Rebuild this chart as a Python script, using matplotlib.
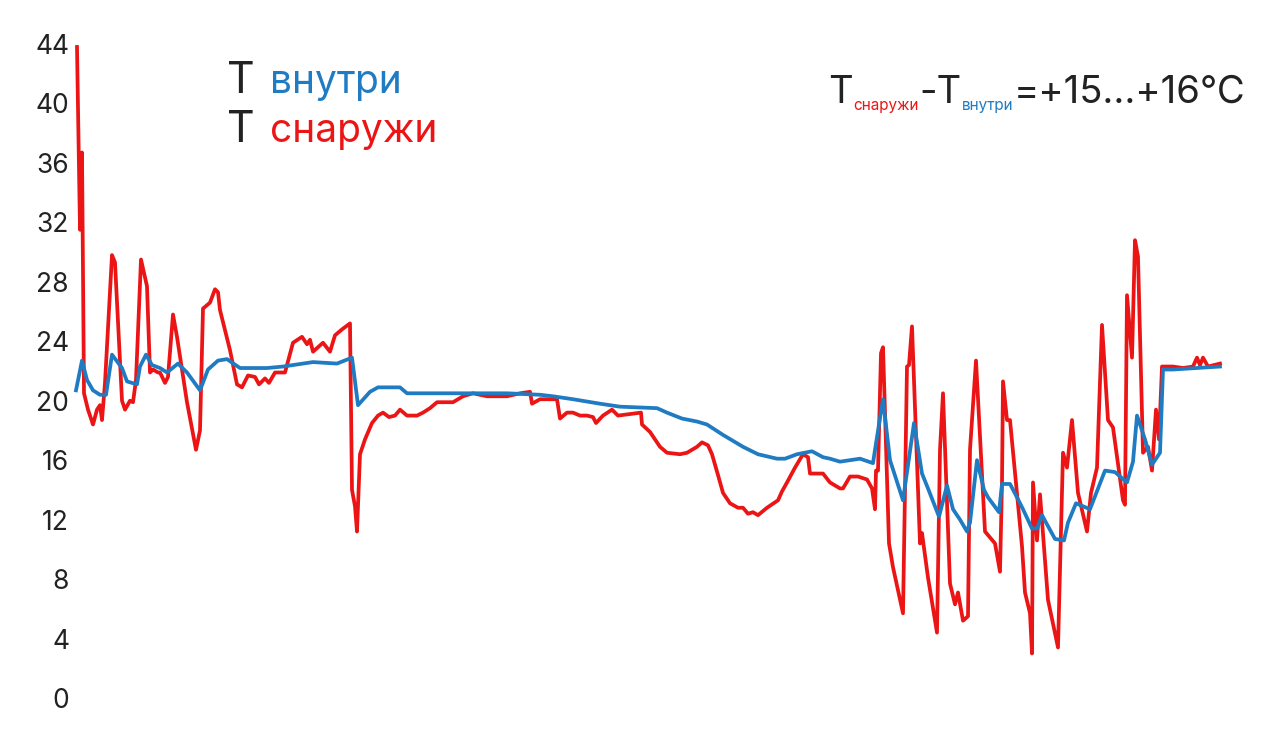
import matplotlib
matplotlib.use("Agg")
import matplotlib.pyplot as plt

# temperatures; t is just the sample position along the run
red_t = [77, 80, 82, 84, 88, 93, 97, 100, 102, 105, 112, 115, 122, 125, 130, 133, 136, 141, 147, 150,
         153, 158, 160, 165, 168, 173, 177, 187, 196, 200, 203, 210, 215, 218, 220, 230, 237, 242, 248, 255,
         259, 265, 269, 275, 285, 293, 302, 307, 310, 313, 323, 330, 335, 342, 350, 352, 355, 357, 360, 365,
         372, 378, 383, 389, 395, 400, 407, 417, 423, 430, 437, 453, 463, 473, 487, 507, 520, 530, 532, 540,
         557, 560, 567, 573, 580, 587, 593, 596, 603, 612, 618, 641, 642, 650, 660, 667, 680, 687, 697, 702,
         708, 712, 718, 723, 730, 738, 743, 748, 753, 758, 767, 778, 782, 787, 795, 803, 808, 810, 823, 830,
         840, 843, 850, 858, 867, 872, 875, 876, 878, 881, 883, 889, 893, 903, 907, 909, 912, 920, 922, 928,
         937, 940, 943, 950, 955, 958, 963, 968, 970, 976, 985, 995, 1000, 1002, 1003, 1007, 1010, 1022, 1025, 1030,
         1032, 1033, 1037, 1040, 1048, 1058, 1063, 1067, 1072, 1078, 1087, 1091, 1097, 1102, 1108, 1113, 1123, 1125, 1127, 1132,
         1135, 1138, 1143, 1148, 1152, 1156, 1159, 1162, 1173, 1183, 1193, 1197, 1200, 1203, 1208, 1220]
red_v = [43.8, 31.5, 36.7, 20.5, 19.4, 18.4, 19.4, 19.7, 18.7, 21.2, 29.8, 29.3, 20.0, 19.4, 20.0, 19.9, 21.4, 29.5, 27.7, 21.9,
         22.1, 21.9, 21.9, 21.2, 21.6, 25.8, 24.3, 19.9, 16.7, 18.0, 26.2, 26.6, 27.5, 27.3, 26.1, 23.4, 21.1, 20.9, 21.7, 21.6,
         21.1, 21.5, 21.2, 21.9, 21.9, 23.9, 24.3, 23.8, 24.1, 23.3, 23.9, 23.3, 24.4, 24.8, 25.2, 14.0, 12.9, 11.2, 16.4, 17.4,
         18.5, 19.0, 19.2, 18.9, 19.0, 19.4, 19.0, 19.0, 19.2, 19.5, 19.9, 19.9, 20.3, 20.5, 20.3, 20.3, 20.5, 20.6, 19.8, 20.1,
         20.1, 18.8, 19.2, 19.2, 19.0, 19.0, 18.9, 18.5, 19.0, 19.4, 19.0, 19.2, 18.4, 17.9, 16.9, 16.5, 16.4, 16.5, 16.9, 17.2,
         17.0, 16.4, 15.0, 13.8, 13.1, 12.8, 12.8, 12.4, 12.5, 12.3, 12.8, 13.3, 13.9, 14.5, 15.5, 16.4, 16.2, 15.1, 15.1, 14.5,
         14.1, 14.1, 14.9, 14.9, 14.7, 14.1, 12.7, 15.3, 15.3, 23.2, 23.6, 10.4, 8.8, 5.7, 22.3, 22.4, 25.0, 10.4, 11.1, 8.1,
         4.4, 16.7, 20.5, 7.7, 6.3, 7.1, 5.2, 5.5, 16.7, 22.7, 11.2, 10.4, 8.5, 14.5, 21.3, 18.7, 18.7, 10.2, 7.1, 5.7,
         3.0, 14.5, 10.6, 13.7, 6.6, 3.4, 16.5, 15.5, 18.7, 13.8, 11.2, 13.8, 15.5, 25.1, 18.7, 18.2, 13.3, 13.0, 27.1, 22.9,
         30.8, 29.7, 16.5, 16.9, 15.3, 19.4, 17.4, 22.3, 22.3, 22.2, 22.3, 22.9, 22.4, 22.9, 22.3, 22.5]

blue_t = [76, 82, 87, 93, 100, 106, 112, 122, 127, 137, 140, 146, 152, 160, 167, 178, 187, 200, 208, 218,
          227, 240, 267, 283, 313, 337, 352, 358, 370, 378, 400, 407, 437, 473, 507, 540, 553, 573, 600, 620,
          657, 667, 682, 697, 707, 723, 743, 758, 777, 785, 797, 812, 823, 830, 840, 860, 873, 875, 883, 890,
          903, 914, 922, 928, 939, 947, 953, 960, 967, 970, 977, 984, 988, 999, 1002, 1010, 1017, 1023, 1032, 1037,
          1042, 1055, 1064, 1068, 1076, 1090, 1105, 1115, 1127, 1133, 1137, 1145, 1152, 1160, 1163, 1173, 1220]
blue_v = [20.7, 22.7, 21.4, 20.7, 20.4, 20.4, 23.1, 22.2, 21.3, 21.1, 22.3, 23.1, 22.4, 22.2, 21.9, 22.5, 21.9, 20.7, 22.1, 22.7,
          22.8, 22.2, 22.2, 22.3, 22.6, 22.5, 22.9, 19.7, 20.6, 20.9, 20.9, 20.5, 20.5, 20.5, 20.5, 20.4, 20.3, 20.1, 19.8, 19.6,
          19.5, 19.2, 18.8, 18.6, 18.4, 17.7, 16.9, 16.4, 16.1, 16.1, 16.4, 16.6, 16.2, 16.1, 15.9, 16.1, 15.8, 16.7, 20.1, 16.0,
          13.3, 18.5, 15.1, 14.1, 12.2, 14.3, 12.7, 12.0, 11.2, 11.8, 16.0, 14.0, 13.5, 12.5, 14.4, 14.4, 13.5, 12.7, 11.4, 11.4,
          12.3, 10.7, 10.6, 11.8, 13.1, 12.7, 15.3, 15.2, 14.5, 15.9, 19.0, 17.4, 15.7, 16.5, 22.1, 22.1, 22.3]

y_ticks = [0, 4, 8, 12, 16, 20, 24, 28, 32, 36, 40, 44]

RED = "#ec1515"
BLUE = "#1f7bc2"
DARK = "#222222"
W, H = 1280, 739

plt.rcParams["font.family"] = ["Inter", "DejaVu Sans"]

fig = plt.figure(figsize=(W / 100, H / 100), dpi=100)
ax = fig.add_axes([76 / W, 41 / H, (1222 - 76) / W, 654 / H])
ax.plot(red_t, red_v, color=RED, lw=2.7, solid_joinstyle="round", clip_on=False)
ax.plot(blue_t, blue_v, color=BLUE, lw=2.7, solid_joinstyle="round", clip_on=False)
ax.set_xlim(76, 1222)
ax.set_ylim(0, 44)
ax.set_xticks([])
ax.set_yticks(y_ticks)
ax.tick_params(axis="y", length=0, pad=5, labelsize=19, labelcolor=DARK)
for s in ax.spines.values():
    s.set_visible(False)

renderer = fig.canvas.get_renderer()


def piece(x, y, s, color, size):
    # place a text run at pixel x / baseline y (from top) and return it
    return fig.text(x / W, 1 - y / H, s, color=color, fontsize=size, ha="left", va="baseline")


def run_right(parts, x_right):
    # lay out (text, color, size, baseline, gap) runs so the last one ends at x_right
    texts = [piece(0, y, s, c, sz) for s, c, sz, y, _ in parts]
    widths = [t.get_window_extent(renderer).width for t in texts]
    x = x_right - sum(widths) - sum(p[4] for p in parts)
    for t, w, p in zip(texts, widths, parts):
        x += p[4]
        t.set_x(x / W)
        x += w


# legend block, top left
piece(227, 93, "T", DARK, 31)
piece(270, 93, "внутри", BLUE, 28)
piece(227, 142, "T", DARK, 31)
piece(270, 142, "снаружи", RED, 28)

# difference note, top right
run_right([("T", DARK, 27.5, 103, 0),
           ("снаружи", RED, 11, 110, 0),
           ("-T", DARK, 27.5, 103, 1),
           ("внутри", BLUE, 11, 110, 0),
           ("=+15...+16℃", DARK, 27.5, 103, 0)], 1245)

fig.savefig("out.png", dpi=100)
